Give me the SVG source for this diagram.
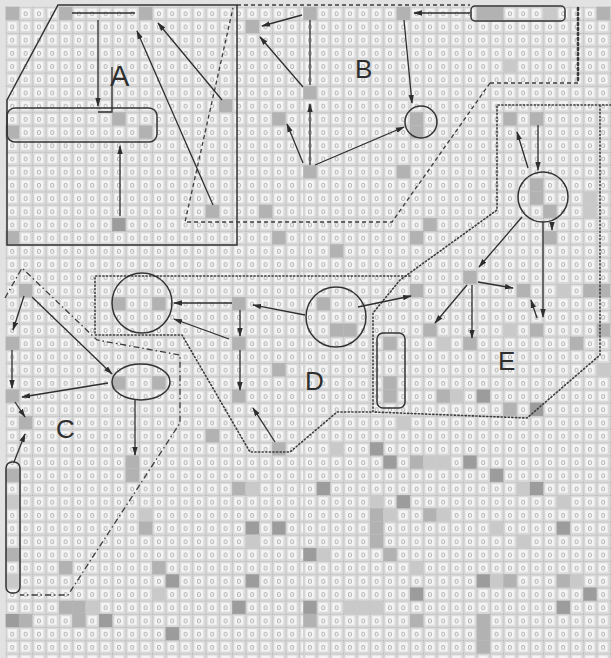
<svg xmlns="http://www.w3.org/2000/svg" xmlns:xlink="http://www.w3.org/1999/xlink" width="611" height="658" viewBox="0 0 611 658">
<defs>
<g id="tile">
<rect width="13.33" height="13.2" fill="#d9d9d9"/>
<rect x="2.2" y="2.1" width="8.9" height="9" fill="#f5f5f5"/>
<text x="6.65" y="9.4" font-family="Liberation Sans, sans-serif" font-size="7.5" text-anchor="middle" fill="#8e8e8e">0</text>
<path d="M0,0.3H13.33M0.3,0V13.2" stroke="#a3a3a3" stroke-width="0.7" stroke-dasharray="1 1"/>
</g>
<pattern id="gridL" patternUnits="userSpaceOnUse" x="5.63" y="6.7" width="13.33" height="13.2"><use href="#tile"/></pattern>
<pattern id="gridR" patternUnits="userSpaceOnUse" x="303.3" y="6.7" width="13.33" height="13.2"><use href="#tile"/></pattern>
<rect id="c" x="-6.67" y="-6.6" width="13.33" height="13.2"/>
<marker id="ah" viewBox="0 0 10 6" refX="9" refY="3" markerWidth="9" markerHeight="6" markerUnits="userSpaceOnUse" orient="auto">
<path d="M0,0L10,3L0,6z" fill="#2e2e2e"/>
</marker>
</defs>
<style>
.d{fill:#9c9c9c}.m{fill:#b2b2b2}.p{fill:#c9c9c9}
.ln{stroke:#2e2e2e;stroke-width:1.3;fill:none}
.ar{marker-end:url(#ah)}
.sh{stroke:#333;stroke-width:1.5;fill:none}
.dash{stroke:#3c3c3c;stroke-width:1.3;fill:none;stroke-dasharray:4 3}
.dot{stroke:#3c3c3c;stroke-width:1.6;fill:none;stroke-dasharray:1.2 2.4;stroke-linecap:round}
.dd{stroke:#3c3c3c;stroke-width:1.3;fill:none;stroke-dasharray:6 3 1.5 3}
.lbl{font-family:"Liberation Sans",Arial,sans-serif;font-size:26px;fill:#2e2e2e}
</style>
<rect width="611" height="658" fill="#e2e2e2"/>
<rect x="5.63" y="6.7" width="297.7" height="652" fill="url(#gridL)"/>
<rect x="303.3" y="6.7" width="310" height="652" fill="url(#gridR)"/>
<g id="shaded">
<use href="#c" x="12.3" y="13.3" class="m"/><use href="#c" x="65.6" y="13.3" class="m"/><use href="#c" x="145.6" y="13.3" class="m"/>
<use href="#c" x="118.9" y="118.9" class="m"/><use href="#c" x="12.3" y="132.1" class="m"/><use href="#c" x="145.6" y="132.1" class="m"/>
<use href="#c" x="252.3" y="26.5" class="m"/><use href="#c" x="310" y="13.3" class="m"/><use href="#c" x="310" y="92.5" class="m"/>
<use href="#c" x="225.6" y="105.7" class="m"/><use href="#c" x="278.9" y="118.9" class="m"/><use href="#c" x="403.3" y="13.3" class="m"/>
<use href="#c" x="483.3" y="13.3" class="m"/><use href="#c" x="496.6" y="13.3" class="m"/><use href="#c" x="550" y="13.3" class="p"/>
<use href="#c" x="603.3" y="13.3" class="m"/><use href="#c" x="510" y="66.1" class="p"/><use href="#c" x="416.6" y="118.9" class="m"/>
<use href="#c" x="416.6" y="132.1" class="m"/><use href="#c" x="510" y="118.9" class="m"/><use href="#c" x="536.6" y="118.9" class="m"/>
<use href="#c" x="118.9" y="224.5" class="d"/><use href="#c" x="12.3" y="237.7" class="m"/><use href="#c" x="212.3" y="211.3" class="m"/>
<use href="#c" x="265.6" y="211.3" class="m"/><use href="#c" x="278.9" y="237.7" class="m"/><use href="#c" x="310" y="171.7" class="m"/>
<use href="#c" x="336.6" y="250.9" class="m"/><use href="#c" x="403.3" y="171.7" class="m"/><use href="#c" x="430" y="224.5" class="m"/>
<use href="#c" x="416.6" y="237.7" class="m"/><use href="#c" x="536.6" y="184.9" class="m"/><use href="#c" x="536.6" y="198.1" class="m"/>
<use href="#c" x="550" y="211.3" class="m"/><use href="#c" x="550" y="237.7" class="m"/><use href="#c" x="590" y="198.1" class="p"/>
<use href="#c" x="590" y="211.3" class="p"/><use href="#c" x="470" y="277.3" class="m"/><use href="#c" x="416.6" y="290.5" class="m"/>
<use href="#c" x="523.3" y="290.5" class="m"/><use href="#c" x="563.3" y="290.5" class="p"/><use href="#c" x="590" y="290.5" class="m"/><use href="#c" x="603.3" y="290.5" class="m"/>
<use href="#c" x="430" y="330.1" class="m"/><use href="#c" x="443.3" y="343.3" class="p"/><use href="#c" x="470" y="343.3" class="m"/>
<use href="#c" x="510" y="330.1" class="p"/><use href="#c" x="536.6" y="330.1" class="m"/><use href="#c" x="576.6" y="343.3" class="m"/>
<use href="#c" x="603.3" y="330.1" class="m"/><use href="#c" x="603.3" y="369.7" class="p"/><use href="#c" x="443.3" y="396.1" class="m"/>
<use href="#c" x="456.6" y="396.1" class="p"/><use href="#c" x="483.3" y="396.1" class="d"/><use href="#c" x="510" y="409.3" class="m"/>
<use href="#c" x="536.6" y="409.3" class="d"/><use href="#c" x="403.3" y="422.5" class="p"/><use href="#c" x="25.6" y="290.5" class="m"/>
<use href="#c" x="12.3" y="343.3" class="m"/><use href="#c" x="118.9" y="303.7" class="m"/><use href="#c" x="158.9" y="303.7" class="m"/>
<use href="#c" x="118.9" y="382.9" class="m"/><use href="#c" x="158.9" y="382.9" class="m"/><use href="#c" x="12.3" y="396.1" class="m"/>
<use href="#c" x="238.9" y="303.7" class="m"/><use href="#c" x="238.9" y="343.3" class="m"/><use href="#c" x="278.9" y="369.7" class="m"/>
<use href="#c" x="238.9" y="396.1" class="m"/><use href="#c" x="323.3" y="303.7" class="m"/><use href="#c" x="336.6" y="330.1" class="m"/>
<use href="#c" x="350" y="330.1" class="m"/><use href="#c" x="390" y="343.3" class="m"/><use href="#c" x="390" y="382.9" class="m"/>
<use href="#c" x="390" y="396.1" class="m"/><use href="#c" x="212.3" y="435.7" class="m"/><use href="#c" x="278.9" y="448.9" class="m"/>
<use href="#c" x="25.6" y="422.5" class="m"/><use href="#c" x="132.3" y="462.1" class="m"/><use href="#c" x="132.3" y="475.3" class="m"/>
<use href="#c" x="12.3" y="475.3" class="m"/><use href="#c" x="12.3" y="501.7" class="p"/><use href="#c" x="12.3" y="554.5" class="m"/>
<use href="#c" x="12.3" y="580.9" class="p"/><use href="#c" x="145.6" y="514.9" class="p"/><use href="#c" x="145.6" y="528.1" class="m"/>
<use href="#c" x="65.6" y="567.7" class="m"/><use href="#c" x="158.9" y="567.7" class="m"/><use href="#c" x="172.3" y="580.9" class="d"/>
<use href="#c" x="158.9" y="594.1" class="p"/><use href="#c" x="65.6" y="607.3" class="m"/><use href="#c" x="78.9" y="607.3" class="m"/>
<use href="#c" x="92.3" y="607.3" class="p"/><use href="#c" x="105.6" y="620.5" class="d"/><use href="#c" x="12.3" y="620.5" class="d"/>
<use href="#c" x="25.6" y="620.5" class="m"/><use href="#c" x="78.9" y="620.5" class="m"/><use href="#c" x="172.3" y="633.7" class="d"/>
<use href="#c" x="336.6" y="448.9" class="p"/><use href="#c" x="376.6" y="448.9" class="d"/><use href="#c" x="390" y="462.1" class="d"/>
<use href="#c" x="238.9" y="488.5" class="m"/><use href="#c" x="252.3" y="488.5" class="p"/><use href="#c" x="323.3" y="488.5" class="d"/>
<use href="#c" x="376.6" y="501.7" class="p"/><use href="#c" x="376.6" y="514.9" class="m"/><use href="#c" x="390" y="514.9" class="p"/>
<use href="#c" x="252.3" y="528.1" class="d"/><use href="#c" x="278.9" y="528.1" class="d"/><use href="#c" x="252.3" y="541.3" class="p"/>
<use href="#c" x="376.6" y="528.1" class="m"/><use href="#c" x="376.6" y="541.3" class="m"/><use href="#c" x="310" y="554.5" class="d"/>
<use href="#c" x="323.3" y="554.5" class="p"/><use href="#c" x="390" y="554.5" class="m"/><use href="#c" x="252.3" y="580.9" class="d"/>
<use href="#c" x="238.9" y="607.3" class="d"/><use href="#c" x="310" y="607.3" class="d"/><use href="#c" x="310" y="620.5" class="m"/>
<use href="#c" x="350" y="607.3" class="p"/><use href="#c" x="363.3" y="607.3" class="p"/><use href="#c" x="376.6" y="607.3" class="p"/>
<use href="#c" x="416.6" y="462.1" class="m"/><use href="#c" x="430" y="462.1" class="p"/><use href="#c" x="443.3" y="462.1" class="p"/>
<use href="#c" x="470" y="462.1" class="d"/><use href="#c" x="496.6" y="475.3" class="d"/><use href="#c" x="523.3" y="488.5" class="p"/>
<use href="#c" x="536.6" y="488.5" class="d"/><use href="#c" x="403.3" y="501.7" class="d"/><use href="#c" x="563.3" y="501.7" class="p"/>
<use href="#c" x="430" y="514.9" class="m"/><use href="#c" x="443.3" y="514.9" class="p"/><use href="#c" x="496.6" y="528.1" class="p"/>
<use href="#c" x="563.3" y="528.1" class="d"/><use href="#c" x="523.3" y="541.3" class="p"/><use href="#c" x="416.6" y="567.7" class="p"/>
<use href="#c" x="483.3" y="580.9" class="d"/><use href="#c" x="496.6" y="580.9" class="p"/><use href="#c" x="510" y="580.9" class="m"/>
<use href="#c" x="563.3" y="580.9" class="m"/><use href="#c" x="576.6" y="580.9" class="p"/><use href="#c" x="590" y="594.1" class="d"/>
<use href="#c" x="416.6" y="594.1" class="d"/><use href="#c" x="563.3" y="607.3" class="d"/><use href="#c" x="416.6" y="620.5" class="m"/>
<use href="#c" x="483.3" y="620.5" class="m"/><use href="#c" x="483.3" y="633.7" class="m"/><use href="#c" x="483.3" y="646.9" class="m"/>
</g>
<g id="regions">
<path id="regionA" class="sh" d="M7,100L58,5H237V245H7Z"/>
<path id="regionB" class="dash" d="M237,5H470M490,83H578M490,83L392,222H185L233,8"/>
<path class="dot" style="stroke-width:2.6;stroke-dasharray:2 3" d="M578,8V83"/>
<path id="regionC" class="dd" d="M5,298L22,268L97,340L180,355V423L68,595H20"/>
<path id="regionD" class="dot" d="M410,276H95V335H182L250,452H290L337,412H373"/>
<path id="regionE" class="dot" d="M611,105H497V210L400,280L373,313V412L527,418L600,355V105"/>
</g>
<g id="nodes">
<g id="nodeA1"><rect class="sh" x="7" y="108" width="150" height="34" rx="8"/></g>
<g id="nodeB1"><circle class="sh" cx="421" cy="122" r="16"/></g>
<g id="nodeB2"><rect class="sh" x="471" y="6" width="94" height="15" rx="4"/></g>
<g id="nodeC1"><ellipse class="sh" cx="141" cy="382" rx="29" ry="18"/></g>
<g id="nodeC2"><rect class="sh" x="6" y="462" width="14" height="131" rx="6"/></g>
<g id="nodeD1"><circle class="sh" cx="142" cy="303" r="30"/></g>
<g id="nodeD2"><circle class="sh" cx="336" cy="317" r="30"/></g>
<g id="nodeD3"><rect class="sh" x="377" y="333" width="28" height="75" rx="6"/></g>
<g id="nodeE1"><circle class="sh" cx="543" cy="197" r="25"/></g>
</g>
<g id="connectors">
<path class="ln" d="M72,13H135"/>
<path class="ln ar" d="M98,20V106"/>
<path class="ln" d="M112,67V112H98"/>
<path class="ln ar" d="M120,216V146"/>
<path class="ln ar" d="M213,205L137,31"/>
<path class="ln ar" d="M222,100L158,23"/>
<path class="ln ar" d="M302,15L262,26"/>
<path class="ln" d="M310,20V85"/>
<path class="ln ar" d="M303,87L260,37"/>
<path class="ln ar" d="M310,165V104"/>
<path class="ln ar" d="M303,163L287,124"/>
<path class="ln ar" d="M315,165L404,127"/>
<path class="ln ar" d="M470,13H414"/>
<path class="ln ar" d="M404,20L412,103"/>
<path class="ln ar" d="M24,296L13,330"/>
<path class="ln ar" d="M12,350V388"/>
<path class="ln ar" d="M32,297L112,374"/>
<path class="ln ar" d="M108,383L22,397"/>
<path class="ln ar" d="M135,400V455"/>
<path class="ln ar" d="M15,402L25,417"/>
<path class="ln ar" d="M14,462L25,434"/>
<path class="ln ar" d="M232,303H174"/>
<path class="ln ar" d="M229,339L174,319"/>
<path class="ln ar" d="M240,310V336"/>
<path class="ln ar" d="M240,350V390"/>
<path class="ln ar" d="M275,442L253,408"/>
<path class="ln ar" d="M305,315L253,305"/>
<path class="ln ar" d="M358,307L411,296"/>
<path class="ln ar" d="M538,125V170"/>
<path class="ln ar" d="M528,168L517,132"/>
<path class="ln ar" d="M552,222V230"/>
<path class="ln ar" d="M543,222V317"/>
<path class="ln ar" d="M537,318L531,300"/>
<path class="ln ar" d="M522,217L479,267"/>
<path class="ln ar" d="M478,282L513,288"/>
<path class="ln ar" d="M472,285V338"/>
<path class="ln ar" d="M467,285L435,323"/>
</g>
<g id="labels">
<text class="lbl" x="110" y="86" style="font-size:29px">A</text>
<text class="lbl" x="355" y="78">B</text>
<text class="lbl" x="56" y="438">C</text>
<text class="lbl" x="305" y="390">D</text>
<text class="lbl" x="498" y="370">E</text>
</g>
</svg>
